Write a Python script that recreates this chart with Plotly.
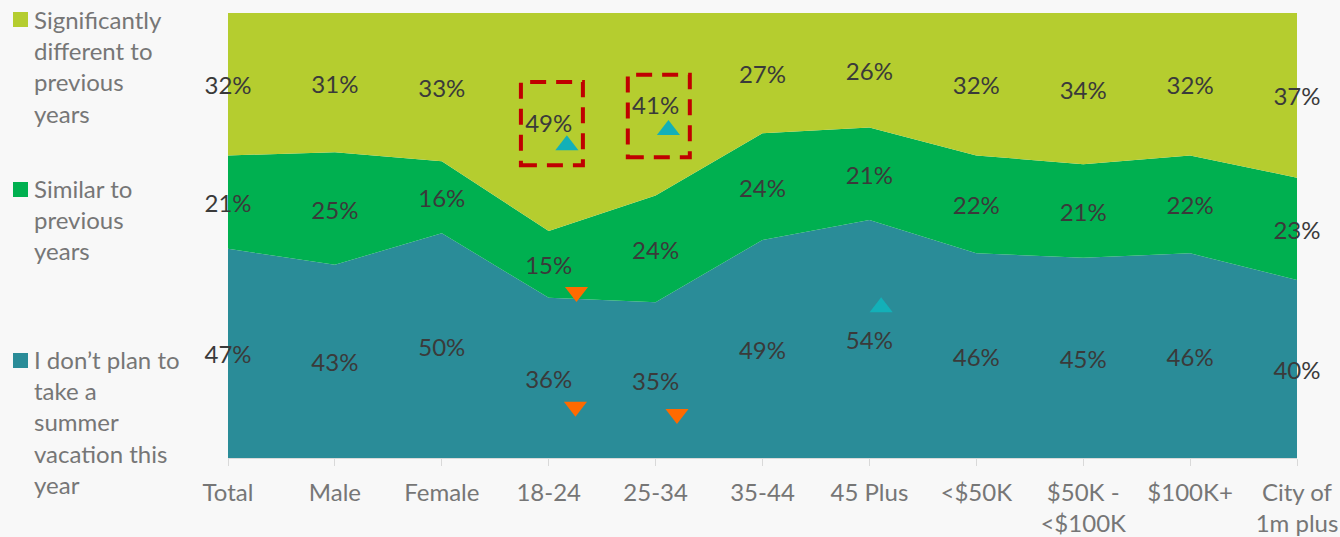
import plotly.graph_objects as go

# Categories along the x axis
categories = ["Total", "Male", "Female", "18-24", "25-34", "35-44", "45 Plus",
              "&lt;$50K", "$50K -<br>&lt;$100K", "$100K+", "City of<br>1m plus"]

# Share of respondents (%) per answer, bottom to top of the stack
no_vacation = [47, 43, 50, 36, 35, 49, 54, 46, 45, 46, 40]
similar = [21, 25, 16, 15, 24, 24, 21, 22, 21, 22, 23]
different = [32, 31, 33, 49, 41, 27, 26, 32, 34, 32, 37]

series_names = [
    "I don’t plan to<br>take a<br>summer<br>vacation this<br>year",
    "Similar to<br>previous<br>years",
    "Significantly<br>different to<br>previous<br>years",
]
series_values = [no_vacation, similar, different]
series_colors = ["#2A8C98", "#00B050", "#B5CD2F"]

# Significance markers: (x position, y position)
sig_up = [(3.17, 70.3), (4.12, 73.7), (6.11, 33.9)]
sig_down = [(3.26, 37.3), (3.25, 11.5), (4.20, 9.9)]
# Highlight boxes: (x0, x1, y0, y1)
highlight_boxes = [(2.74, 3.32, 65.8, 84.5), (3.74, 4.32, 67.6, 86.1)]

W, H = 1340, 537
L, R, T, B = 228, 43, 13, 79
PW, PH = W - L - R, H - T - B


def px_x(px):
    return (px - L) / PW


def px_y(py):
    return (H - B - py) / PH


FONT = "Lato"
x_idx = list(range(len(categories)))
LABEL_DROP = 4 / PH * 100  # nudge labels ~4px down to sit visually centred

fig = go.Figure()

# 100% stacked areas
for name, vals, col in zip(series_names, series_values, series_colors):
    fig.add_trace(go.Scatter(
        x=x_idx, y=vals, name=name, mode="lines", stackgroup="one",
        groupnorm="percent",
        line=dict(width=0, color=col), fillcolor=col, showlegend=False,
        hoverinfo="skip",
    ))

# Percentage labels centred in each band (positions normalised per column)
totals = [sum(col) for col in zip(*series_values)]
base = [0.0] * len(categories)
for vals in series_values:
    shares = [100 * v / t for v, t in zip(vals, totals)]
    mids = [b + s / 2 - LABEL_DROP for b, s in zip(base, shares)]
    fig.add_trace(go.Scatter(
        x=x_idx, y=mids, mode="text", text=[f"{v}%" for v in vals],
        textfont=dict(family=FONT, size=24, color="#3A3A3A"),
        textposition="middle center", cliponaxis=False, showlegend=False,
        hoverinfo="skip",
    ))
    base = [b + s for b, s in zip(base, shares)]

# Significance triangles
fig.add_trace(go.Scatter(
    x=[p[0] for p in sig_up], y=[p[1] for p in sig_up], mode="markers",
    marker=dict(symbol="triangle-up", size=20, color="#13B0B8", line=dict(width=0)),
    showlegend=False, hoverinfo="skip", cliponaxis=False,
))
fig.add_trace(go.Scatter(
    x=[p[0] for p in sig_down], y=[p[1] for p in sig_down], mode="markers",
    marker=dict(symbol="triangle-down", size=20, color="#FF6A00", line=dict(width=0)),
    showlegend=False, hoverinfo="skip", cliponaxis=False,
))

shapes = []
for x0, x1, y0, y1 in highlight_boxes:
    shapes.append(dict(type="rect", xref="x", yref="y", x0=x0, x1=x1, y0=y0, y1=y1,
                       line=dict(color="#C00000", width=4, dash="16px,10px"),
                       fillcolor="rgba(0,0,0,0)"))

# Legend drawn at the left: coloured squares with wrapped labels
legend_items = [
    (series_names[2], series_colors[2], 12, 66),
    (series_names[1], series_colors[1], 182, 219),
    (series_names[0], series_colors[0], 353, 422),
]
annotations = []
for text, col, sq_top, mid in legend_items:
    shapes.append(dict(type="rect", xref="paper", yref="paper",
                       x0=px_x(13), x1=px_x(28), y0=px_y(sq_top + 15), y1=px_y(sq_top),
                       line=dict(width=0), fillcolor=col))
    annotations.append(dict(
        xref="paper", yref="paper", x=px_x(32), y=px_y(mid), xanchor="left",
        yanchor="middle", align="left", showarrow=False, text=text,
        font=dict(family=FONT, size=24, color="#767676"),
    ))

fig.update_layout(
    width=W, height=H,
    margin=dict(l=L, r=R, t=T, b=B, autoexpand=False),
    paper_bgcolor="#F8F8F8", plot_bgcolor="#F8F8F8",
    shapes=shapes, annotations=annotations,
    xaxis=dict(
        range=[0, len(categories) - 1], tickmode="array", tickvals=x_idx,
        ticktext=categories, ticks="outside", ticklen=7, tickcolor="#D9D9D9",
        ticklabelstandoff=6, automargin=False,
        showline=True, linecolor="#D9D9D9", showgrid=False, zeroline=False,
        tickfont=dict(family=FONT, size=24, color="#767676"),
    ),
    yaxis=dict(range=[0, 100], visible=False, showgrid=False, automargin=False),
    font=dict(family=FONT),
)

fig.write_html("out.html")
